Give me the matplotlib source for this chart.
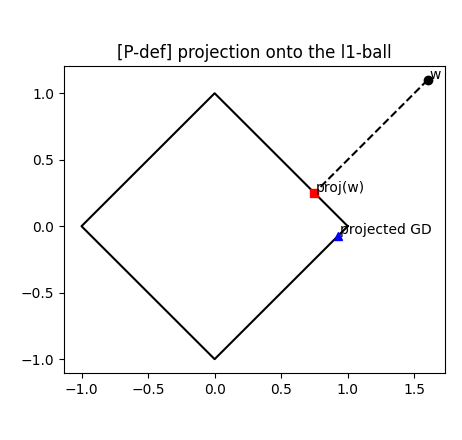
import matplotlib
matplotlib.use("Agg")
import matplotlib.pyplot as plt

# l1-ball outline
ball_x = [1, 0, -1, 0, 1]
ball_y = [0, 1, 0, -1, 0]

w = (1.6, 1.1)
proj = (0.75, 0.25)
gd = (0.93, -0.07)

fig = plt.figure(figsize=(4.62, 4.4), dpi=100)
ax = fig.add_axes([0.139, 0.152, 0.824, 0.698])

ax.plot(ball_x, ball_y, color='black')
ax.plot([w[0], proj[0]], [w[1], proj[1]], 'k--')
ax.plot(w[0], w[1], 'ko')
ax.plot(proj[0], proj[1], 'rs')
ax.plot(gd[0], gd[1], 'b^')

ax.text(w[0] + 0.01, w[1] + 0.01, 'w')
ax.text(proj[0] + 0.01, proj[1] + 0.01, 'proj(w)')
ax.text(gd[0] + 0.01, gd[1] + 0.01, 'projected GD')

ax.set_title('[P-def] projection onto the l1-ball')

fig.savefig('out.png')
